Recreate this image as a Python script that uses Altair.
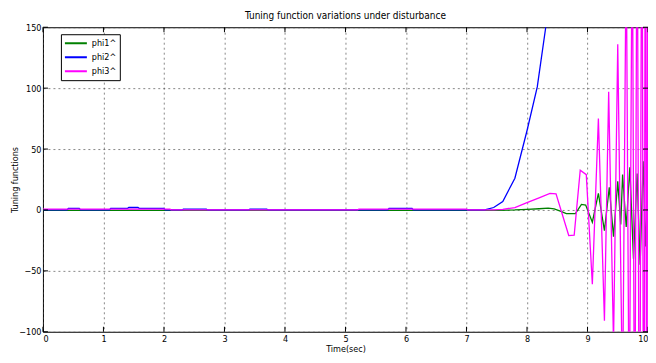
import altair as alt
import pandas as pd

# ---- data ----
t_phi1 = [0, 7.5, 7.8, 8.0, 8.2, 8.35, 8.45, 8.55, 8.65, 8.8, 8.9, 8.97, 9.08, 9.18,
          9.28, 9.36, 9.43, 9.5, 9.55, 9.58, 9.64, 9.7, 9.76, 9.82, 9.87, 9.92, 9.96, 10]
v_phi1 = [-0.3, -0.3, 0, 0.5, 1, 1.5, 0.8, -1, -3, -3, 4.5, 4, -10, 13.6,
          -17, 18.5, -22, 23.6, -12, 29, -14, 35, -40, 30, -45, 40, -30, 20]

t_phi2 = [0, 0.4, 0.42, 0.6, 0.62, 1.1, 1.12, 1.4, 1.42, 1.57, 1.59, 2.0, 2.02, 2.3,
          2.32, 2.7, 2.72, 3.4, 3.42, 3.7, 3.72, 5.7, 5.72, 6.1, 6.12, 7.3, 7.45, 7.6,
          7.8, 8.0, 8.17, 8.31, 8.45]
v_phi2 = [0, 0, 1.3, 1.3, 0, 0, 1.3, 1.3, 2, 2, 1.3, 1.3, 0, 0,
          0.6, 0.6, 0, 0, 0.6, 0.6, 0, 0, 1.3, 1.3, 0, 0, 2, 7,
          26, 65, 101, 150, 200]

t_phi3 = [0, 2.1, 2.12, 5.2, 5.22, 7.0, 7.02, 7.45, 7.6, 7.8, 8.0, 8.2, 8.38, 8.48,
          8.69, 8.78, 8.88, 8.98, 9.08, 9.18, 9.28, 9.35, 9.43, 9.5, 9.58, 9.64, 9.69,
          9.74, 9.78, 9.82, 9.86, 9.9, 9.93, 9.96, 9.98, 10]
v_phi3 = [0.7, 0.7, 0, 0, 0.7, 0.7, 0, 0, 0.5, 2, 6, 10, 13.6, 13.3,
          -21, -20.7, 32.6, 29, -61, 75, -91, 97, -110, 136, -160, 220, -200,
          260, -250, 300, -300, 350, -350, 400, -400, 450]

series_names = ["phi1^", "phi2^", "phi3^"]
series_colors = ["#008000", "#0000ff", "#ff00ff"]

x_ticks = [0, 1, 2, 3, 4, 5, 6, 7, 8, 9, 10]
y_ticks = [-100, -50, 0, 50, 100, 150]

rows = []
for name, ts, vs in zip(series_names, [t_phi1, t_phi2, t_phi3], [v_phi1, v_phi2, v_phi3]):
    for i, (t, v) in enumerate(zip(ts, vs)):
        rows.append({"series": name, "t": t, "v": v, "order": i})
df = pd.DataFrame(rows)

W, H = 606, 305
FONT = "Liberation Sans Narrow, DejaVu Sans Condensed, Liberation Sans, Arial"

xs = alt.Scale(domain=[0, 10], nice=False, zero=False)
ys = alt.Scale(domain=[-100, 150], nice=False, zero=False)

lines = alt.Chart(df).mark_line(clip=True, strokeWidth=1.3).encode(
    x=alt.X("t:Q", scale=xs,
            axis=alt.Axis(values=x_ticks, title="Time(sec)", grid=True, format="d",
                          labelPadding=3,
                          titleX=W / 2, titleY=13, titleBaseline="top")),
    y=alt.Y("v:Q", scale=ys,
            axis=alt.Axis(values=y_ticks, title="Tuning functions", grid=True, format="d",
                          labelPadding=2,
                          titleX=-23, titleY=H / 2, titleAngle=270,
                          titleBaseline="bottom", titleAlign="center")),
    color=alt.Color("series:N",
                    scale=alt.Scale(domain=series_names, range=series_colors),
                    legend=alt.Legend(orient="none", legendX=18, legendY=7, title=None,
                                      fillColor="white", strokeColor="black", padding=3,
                                      symbolType="stroke", symbolSize=484, symbolStrokeWidth=2,
                                      labelFontSize=9, labelFont=FONT, clipHeight=12,
                                      rowPadding=2, labelOffset=4)),
    detail="series:N",
    order="order:Q",
)

xt = pd.DataFrame({"t": x_ticks})
yt = pd.DataFrame({"v": y_ticks})
tick_style = dict(color="black", strokeWidth=1)
bottom_ticks = alt.Chart(xt).mark_rule(**tick_style).encode(
    x=alt.X("t:Q", scale=xs), y=alt.value(H), y2=alt.value(H - 5))
top_ticks = alt.Chart(xt).mark_rule(**tick_style).encode(
    x=alt.X("t:Q", scale=xs), y=alt.value(0), y2=alt.value(5))
left_ticks = alt.Chart(yt).mark_rule(**tick_style).encode(
    y=alt.Y("v:Q", scale=ys), x=alt.value(0), x2=alt.value(5))
right_ticks = alt.Chart(yt).mark_rule(**tick_style).encode(
    y=alt.Y("v:Q", scale=ys), x=alt.value(W), x2=alt.value(W - 5))

chart = alt.layer(lines, bottom_ticks, top_ticks, left_ticks, right_ticks).properties(
    width=W, height=H,
    title=alt.TitleParams("Tuning function variations under disturbance",
                          fontSize=10, fontWeight="normal", font=FONT, offset=7,
                          frame="group", anchor="middle", dy=5),
    autosize=alt.AutoSizeParams(type="none"),
    padding={"left": 35, "top": 19, "right": 0, "bottom": 23},
    background="white",
).configure_view(
    stroke="black", strokeWidth=1, fill="white"
).configure_axis(
    domain=False, ticks=False, labelFont=FONT, labelFontSize=9, labelColor="black",
    titleFont=FONT, titleFontSize=9, titleFontWeight="normal",
    titleColor="black", gridColor="#444444", gridDash=[2, 3], gridWidth=0.8,
    gridOpacity=0.8,
)

chart.save("out.html", embed_options={"renderer": "svg", "actions": False})
